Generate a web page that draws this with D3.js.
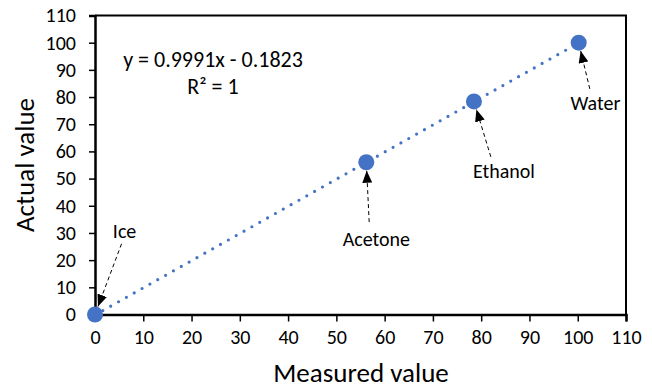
<!DOCTYPE html>
<html>
<head>
<meta charset="utf-8">
<script src="https://cdn.jsdelivr.net/npm/d3@7"></script>
<style>
  body { margin: 0; background: #fff; }
  text { font-family: Carlito, Calibri, Lato, sans-serif; fill: #000; }
</style>
</head>
<body>
<svg id="chart" width="652" height="389"></svg>
<script>
// data
var labels = ["Ice", "Acetone", "Ethanol", "Water"];
var measured = [0, 56.2, 78.5, 100.2];
var actual = [0, 56.0, 78.4, 100.0];
var slope = 0.9991, intercept = -0.1823;
var xTicks = [0, 10, 20, 30, 40, 50, 60, 70, 80, 90, 100, 110];
var yTicks = [0, 10, 20, 30, 40, 50, 60, 70, 80, 90, 100, 110];
// label anchor (data units) and arrow tail offsets for the callouts
var labelPos = [[3.7, 30], [51.3, 26.8], [78.3, 52.1], [98.5, 77.1]];
var tailPos = [[5.5, 26], [56.8, 34], [82, 58], [102.5, 83]];

var svg = d3.select("#chart");
var m = { left: 95, right: 26, top: 15.5, bottom: 74.5 };
var W = 652, H = 389;

var x = d3.scaleLinear().domain([0, 110]).range([m.left, W - m.right]);
var y = d3.scaleLinear().domain([0, 110]).range([H - m.bottom, m.top]);

svg.append("defs").append("marker")
  .attr("id", "head")
  .attr("viewBox", "0 0 12 10")
  .attr("refX", 12).attr("refY", 5)
  .attr("markerWidth", 12).attr("markerHeight", 10)
  .attr("markerUnits", "userSpaceOnUse")
  .attr("orient", "auto")
  .append("path").attr("d", "M0,0L12,5L0,10Z").attr("fill", "#000");

// frame top/right
svg.append("path")
  .attr("d", "M" + x(0) + "," + y(110) + "H" + x(110) + "V" + y(0))
  .attr("fill", "none").attr("stroke", "#000").attr("stroke-width", 2);

var xAxis = svg.append("g")
  .attr("transform", "translate(0," + y(0) + ")")
  .call(d3.axisBottom(x).tickValues(xTicks).tickSize(7).tickPadding(8));
var yAxis = svg.append("g")
  .attr("transform", "translate(" + x(0) + ",0)")
  .call(d3.axisLeft(y).tickValues(yTicks).tickSize(6).tickPadding(13));

[xAxis, yAxis].forEach(function (a) {
  a.select(".domain").attr("stroke", "#000").attr("stroke-width", 2.5);
  a.selectAll(".tick line").attr("stroke", "#000").attr("stroke-width", 1.5);
  a.selectAll("text").attr("font-size", 20).attr("font-family", "Carlito, Calibri, Lato, sans-serif");
});

// trendline
var xEnd = d3.max(measured);
svg.append("line")
  .attr("x1", x(0)).attr("y1", y(intercept))
  .attr("x2", x(xEnd)).attr("y2", y(slope * xEnd + intercept))
  .attr("stroke", "#4472C4").attr("stroke-width", 3.2)
  .attr("stroke-linecap", "round")
  .attr("stroke-dasharray", "0 9");

svg.selectAll("circle.pt")
  .data(measured)
  .enter().append("circle")
  .attr("class", "pt")
  .attr("cx", function (d) { return x(d); })
  .attr("cy", function (d, i) { return y(actual[i]); })
  .attr("r", 8)
  .attr("fill", "#4472C4");

// callout arrows
labels.forEach(function (name, i) {
  var tx = x(tailPos[i][0]), ty = y(tailPos[i][1]);
  var px = x(measured[i]), py = y(actual[i]);
  var dx = px - tx, dy = py - ty, len = Math.sqrt(dx * dx + dy * dy);
  var stop = len - 8.5;
  svg.append("line")
    .attr("x1", tx).attr("y1", ty)
    .attr("x2", tx + dx * stop / len).attr("y2", ty + dy * stop / len)
    .attr("stroke", "#000").attr("stroke-width", 1)
    .attr("stroke-dasharray", "4 3")
    .attr("marker-end", "url(#head)");
  svg.append("text")
    .attr("x", x(labelPos[i][0])).attr("y", y(labelPos[i][1]))
    .attr("font-size", 20)
    .attr("dominant-baseline", "middle")
    .text(name);
});

// equation
svg.append("text")
  .attr("x", 213).attr("y", 67)
  .attr("text-anchor", "middle").attr("font-size", 22)
  .text("y = " + slope + "x - " + Math.abs(intercept));
svg.append("text")
  .attr("x", 213).attr("y", 94)
  .attr("text-anchor", "middle").attr("font-size", 22)
  .text("R² = 1");

// axis titles
svg.append("text")
  .attr("x", 361).attr("y", 382)
  .attr("text-anchor", "middle").attr("font-size", 27)
  .text("Measured value");
svg.append("text")
  .attr("transform", "translate(34,165) rotate(-90)")
  .attr("text-anchor", "middle").attr("font-size", 27)
  .text("Actual value");
</script>
</body>
</html>
